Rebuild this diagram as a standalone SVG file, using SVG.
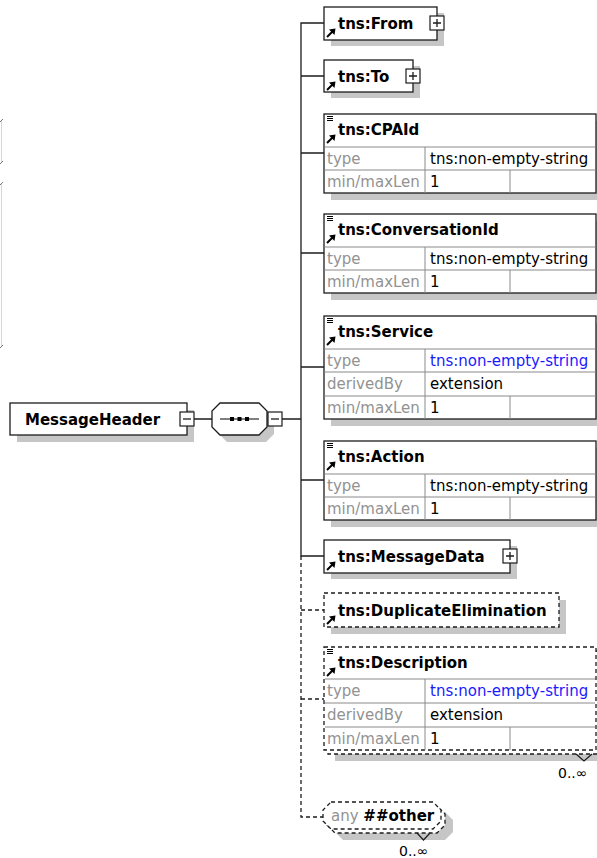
<svg xmlns="http://www.w3.org/2000/svg" width="597" height="858" viewBox="0 0 597 858">
  <defs>
    <style>
      text { font-family: "DejaVu Sans", Verdana, sans-serif; font-size: 15px; }
      .name { font-weight: bold; fill: #000; }
      .key { fill: #929292; }
      .val { fill: #000; }
      .typeref { fill: #1a1aff; }
      .occ { font-size: 14px; fill: #000; }
      .frame { fill: #fff; stroke: #1c1c1c; stroke-width: 1.3; }
      .opt { stroke-dasharray: 4 3; }
      .shade { fill: #c6c6c6; }
      .grid { stroke: #8a8a8a; stroke-width: 1; fill: none; }
      .wire { stroke: #1c1c1c; stroke-width: 1.3; fill: none; }
      .chev { stroke: #1c1c1c; stroke-width: 1.2; fill: none; }
    </style>
    <!-- reference arrow at the bottom-left of element names -->
    <g id="refArrow">
      <path d="M0 9 L5.5 3.5" stroke="#000" stroke-width="2" fill="none"/>
      <path d="M8.5 0.5 L2 1.5 L7.5 7 Z" fill="#000"/>
    </g>
    <!-- simple-content marker -->
    <path id="simple" d="M0 0.5 H6 M0 2.5 H6 M0 4.5 H6" stroke="#000" stroke-width="1" fill="none"/>
    <g id="plus">
      <rect x="0" y="0" width="14" height="14" fill="#fff" stroke="#1c1c1c" stroke-width="1.2"/>
      <path d="M3 7 H11 M7 3 V11" stroke="#1c1c1c" stroke-width="1.3"/>
    </g>
    <g id="minus">
      <rect x="0" y="0" width="14" height="14" fill="#fff" stroke="#1c1c1c" stroke-width="1.2"/>
      <path d="M3 7 H11" stroke="#1c1c1c" stroke-width="1.3"/>
    </g>
  </defs>

  <rect width="597" height="858" fill="#fff"/>

  <!-- thin bracket remnants on the left edge -->
  <g id="edge-marks" stroke-width="1" fill="none">
    <path d="M1.5 121 V162 M1.5 184 V346" stroke="#d6d6d6"/>
    <path d="M0 122 L3 119 M0 164 L3 161 M0 185 L3 182 M0 348 L3 345" stroke="#777"/>
  </g>

  <!-- connectors -->
  <g id="connectors">
    <path class="wire" d="M194 419 H212 M282 419 H301"/>
    <path class="wire" d="M324 23 H301 V556 H324 M301 76 H324 M301 153 H324 M301 253 H324 M301 367 H324 M301 480 H324"/>
    <path class="wire opt" d="M301 556 V817 H323 M301 610 H324 M301 699 H324"/>
  </g>

  <!-- root element -->
  <g id="MessageHeader">
    <rect class="shade" x="17" y="410" width="177" height="32"/>
    <rect class="frame" x="10" y="403" width="177" height="32"/>
    <text class="name" x="25" y="425">MessageHeader</text>
    <use href="#minus" x="180" y="412"/>
  </g>

  <!-- sequence compositor -->
  <g id="sequence">
    <path class="shade" d="M227 410 H266 L274 418 V434 L266 442 H227 L219 434 V418 Z"/>
    <path class="frame" d="M220 403 H259 L267 411 V427 L259 435 H220 L212 427 V411 Z"/>
    <path d="M220 419 H259" stroke="#000" stroke-width="1.2"/>
    <rect x="230" y="417" width="4" height="4" fill="#000"/>
    <rect x="237.5" y="417" width="4" height="4" fill="#000"/>
    <rect x="245" y="417" width="4" height="4" fill="#000"/>
    <use href="#minus" x="268" y="412"/>
  </g>

  <g id="From">
    <rect class="shade" x="331" y="13" width="113" height="33"/>
    <rect class="frame" x="324" y="7" width="113" height="33"/>
    <use href="#refArrow" x="327" y="28"/>
    <text class="name" x="338" y="29">tns:From</text>
    <use href="#plus" x="430" y="16"/>
  </g>

  <g id="To">
    <rect class="shade" x="331" y="66" width="89" height="32"/>
    <rect class="frame" x="324" y="60" width="89" height="32"/>
    <use href="#refArrow" x="327" y="81"/>
    <text class="name" x="338" y="82">tns:To</text>
    <use href="#plus" x="406" y="69"/>
  </g>

  <g id="CPAId">
    <rect class="shade" x="331" y="121" width="272" height="79"/>
    <rect class="frame" x="324" y="114" width="272" height="79"/>
    <use href="#simple" x="327" y="116"/>
    <use href="#refArrow" x="327" y="134"/>
    <text class="name" x="338" y="135">tns:CPAId</text>
    <path class="grid" d="M324.5 147 H595.5 M324.5 170 H595.5 M425 147 V193 M510 170 V193"/>
    <text class="key" x="327" y="164">type</text>
    <text class="val" x="430" y="164">tns:non-empty-string</text>
    <text class="key" x="327" y="187">min/maxLen</text>
    <text class="val" x="430" y="187">1</text>
  </g>

  <g id="ConversationId">
    <rect class="shade" x="331" y="221" width="272" height="79"/>
    <rect class="frame" x="324" y="214" width="272" height="79"/>
    <use href="#simple" x="327" y="216"/>
    <use href="#refArrow" x="327" y="234"/>
    <text class="name" x="338" y="235">tns:ConversationId</text>
    <path class="grid" d="M324.5 247 H595.5 M324.5 270 H595.5 M425 247 V293 M510 270 V293"/>
    <text class="key" x="327" y="264">type</text>
    <text class="val" x="430" y="264">tns:non-empty-string</text>
    <text class="key" x="327" y="287">min/maxLen</text>
    <text class="val" x="430" y="287">1</text>
  </g>

  <g id="Service">
    <rect class="shade" x="331" y="323" width="272" height="103"/>
    <rect class="frame" x="324" y="316" width="272" height="103"/>
    <use href="#simple" x="327" y="318"/>
    <use href="#refArrow" x="327" y="336"/>
    <text class="name" x="338" y="337">tns:Service</text>
    <path class="grid" d="M324.5 349 H595.5 M324.5 372 H595.5 M324.5 396 H595.5 M425 349 V419 M510 396 V419"/>
    <text class="key" x="327" y="366">type</text>
    <text class="val typeref" x="430" y="366">tns:non-empty-string</text>
    <text class="key" x="327" y="389">derivedBy</text>
    <text class="val" x="430" y="389">extension</text>
    <text class="key" x="327" y="413">min/maxLen</text>
    <text class="val" x="430" y="413">1</text>
  </g>

  <g id="Action">
    <rect class="shade" x="331" y="448" width="272" height="79"/>
    <rect class="frame" x="324" y="441" width="272" height="79"/>
    <use href="#simple" x="327" y="443"/>
    <use href="#refArrow" x="327" y="461"/>
    <text class="name" x="338" y="462">tns:Action</text>
    <path class="grid" d="M324.5 474 H595.5 M324.5 497 H595.5 M425 474 V520 M510 497 V520"/>
    <text class="key" x="327" y="491">type</text>
    <text class="val" x="430" y="491">tns:non-empty-string</text>
    <text class="key" x="327" y="514">min/maxLen</text>
    <text class="val" x="430" y="514">1</text>
  </g>

  <g id="MessageData">
    <rect class="shade" x="331" y="546" width="186" height="33"/>
    <rect class="frame" x="324" y="540" width="186" height="33"/>
    <use href="#refArrow" x="327" y="561"/>
    <text class="name" x="338" y="562">tns:MessageData</text>
    <use href="#plus" x="503" y="549"/>
  </g>

  <g id="DuplicateElimination">
    <rect class="shade" x="331" y="600" width="235" height="34"/>
    <rect class="frame opt" x="324" y="593" width="235" height="34"/>
    <use href="#refArrow" x="327" y="615"/>
    <text class="name" x="338" y="616">tns:DuplicateElimination</text>
  </g>

  <g id="Description">
    <rect class="shade" x="335" y="657" width="272" height="104"/>
    <rect class="frame opt" x="328" y="651" width="272" height="103"/>
    <rect class="frame opt" x="324" y="647" width="272" height="103"/>
    <use href="#simple" x="327" y="649"/>
    <use href="#refArrow" x="327" y="667"/>
    <text class="name" x="338" y="668">tns:Description</text>
    <path class="grid" d="M325 679 H595 M325 703 H595 M325 727 H595 M425 679 V750 M510 727 V750"/>
    <text class="key" x="327" y="696">type</text>
    <text class="val typeref" x="430" y="696">tns:non-empty-string</text>
    <text class="key" x="327" y="720">derivedBy</text>
    <text class="val" x="430" y="720">extension</text>
    <text class="key" x="327" y="744">min/maxLen</text>
    <text class="val" x="430" y="744">1</text>
    <path class="chev" d="M576 754 L584 761 L592 754"/>
    <text class="occ" x="558" y="778">0..∞</text>
  </g>

  <g id="any-other">
    <path class="shade" d="M343 812 H445 L453 820 V832 L445 840 H343 L335 832 V820 Z"/>
    <path class="frame opt" d="M335 806 H437 L445 814 V825 L437 833 H335 L327 825 V814 Z"/>
    <path class="frame opt" d="M331 802 H433 L441 810 V821 L433 829 H331 L323 821 V810 Z"/>
    <text x="331" y="821" font-size="14" fill="#929292">any <tspan font-weight="bold" fill="#000">##other</tspan></text>
    <path class="chev" d="M417 833 L423.5 840 L430 833"/>
    <text class="occ" x="399" y="856">0..∞</text>
  </g>
</svg>
